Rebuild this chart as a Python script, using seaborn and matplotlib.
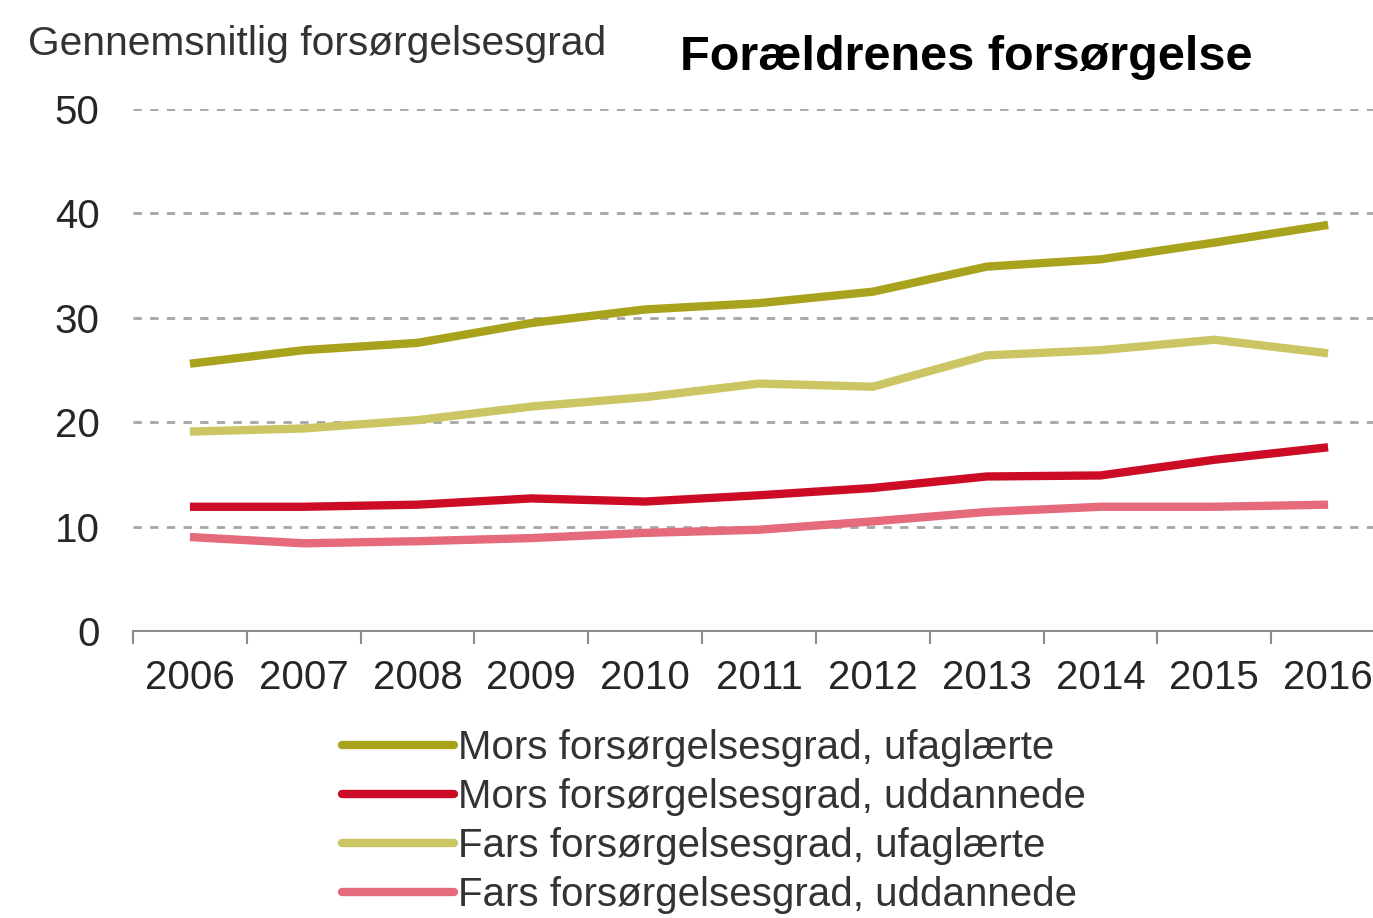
import matplotlib
matplotlib.use("Agg")
import matplotlib.pyplot as plt
import seaborn as sns
import pandas as pd
import numpy as np

years = ["2006", "2007", "2008", "2009", "2010", "2011", "2012", "2013", "2014", "2015", "2016"]
mors_ufaglaerte = [25.6, 26.9, 27.6, 29.5, 30.8, 31.4, 32.5, 34.9, 35.6, 37.2, 38.9]
mors_uddannede = [11.9, 11.9, 12.1, 12.7, 12.4, 13.0, 13.7, 14.8, 14.9, 16.4, 17.6]
fars_ufaglaerte = [19.1, 19.4, 20.2, 21.5, 22.4, 23.7, 23.4, 26.4, 26.9, 27.9, 26.6]
fars_uddannede = [9.0, 8.4, 8.6, 8.9, 9.4, 9.7, 10.5, 11.4, 11.9, 11.9, 12.1]

series_names = [
    "Mors forsørgelsesgrad, ufaglærte",
    "Mors forsørgelsesgrad, uddannede",
    "Fars forsørgelsesgrad, ufaglærte",
    "Fars forsørgelsesgrad, uddannede",
]
series_values = [mors_ufaglaerte, mors_uddannede, fars_ufaglaerte, fars_uddannede]
colors = ["#A9A21C", "#CC0C25", "#CBC663", "#E46A7C"]

rows = []
for name, vals in zip(series_names, series_values):
    for i, v in enumerate(vals):
        rows.append({"pos": i, "year": years[i], "value": v, "series": name})
df = pd.DataFrame(rows)

sns.set_theme(style="white")
plt.rcParams["font.family"] = ["Liberation Sans", "DejaVu Sans"]

fig = plt.figure(figsize=(13.73, 9.18), dpi=100)
W, H = 1373, 918
# axes: x from -0.5 (px 133) to 10.5 (px ~1385); y 0 at px 631, 50 at px 109
ax = fig.add_axes([133 / W, 1 - 631 / H, (1385 - 133) / W, (631 - 109) / H])

sns.lineplot(data=df, x="pos", y="value", hue="series", hue_order=series_names,
             palette=colors, linewidth=6, ax=ax, legend=False, solid_capstyle="butt")

ax.set_xlim(-0.5, 10.5)
ax.set_ylim(0, 50)
ax.set_yticks([0, 10, 20, 30, 40, 50])
for yv in [10, 20, 30, 40, 50]:
    ax.axhline(yv, color="#A6A6A6", lw=2.0, ls=(0, (3, 3)), zorder=0)

ax.set_xticks(np.arange(len(years)))
ax.set_xticklabels(years)
ax.set_xticks(np.arange(len(years) + 1) - 0.5, minor=True)
ax.tick_params(axis="x", which="major", bottom=True, length=0, pad=20,
               labelsize=29, labelcolor="#262626")
ax.tick_params(axis="x", which="minor", bottom=True, length=9, width=1.5,
               color="#8C8C8C", direction="out")
ax.tick_params(axis="y", length=0, pad=24, labelsize=29, labelcolor="#262626")
for s in ["top", "right", "left"]:
    ax.spines[s].set_visible(False)
ax.spines["bottom"].set_color("#8C8C8C")
ax.spines["bottom"].set_linewidth(1.5)
ax.set_xlabel("")
ax.set_ylabel("")
ax.grid(False)

fig.text(28 / W, 1 - 44 / H, "Gennemsnitlig forsørgelsesgrad", fontsize=29.3,
         color="#333333", va="center", ha="left")
fig.text(680 / W, 1 - 58 / H, "Forældrenes forsørgelse", fontsize=35,
         fontweight="bold", color="#000000", va="center", ha="left")

handles = [plt.Line2D([0], [0], color=c, lw=6) for c in colors]
leg = fig.legend(handles, series_names, loc="upper left",
                 bbox_to_anchor=(342 / W, 1 - 729 / H), frameon=False,
                 fontsize=29, handlelength=2.78, handletextpad=0.1,
                 labelspacing=0.27, borderpad=0, borderaxespad=0)
for t in leg.get_texts():
    t.set_color("#333333")

fig.savefig("out.png", dpi=100)
